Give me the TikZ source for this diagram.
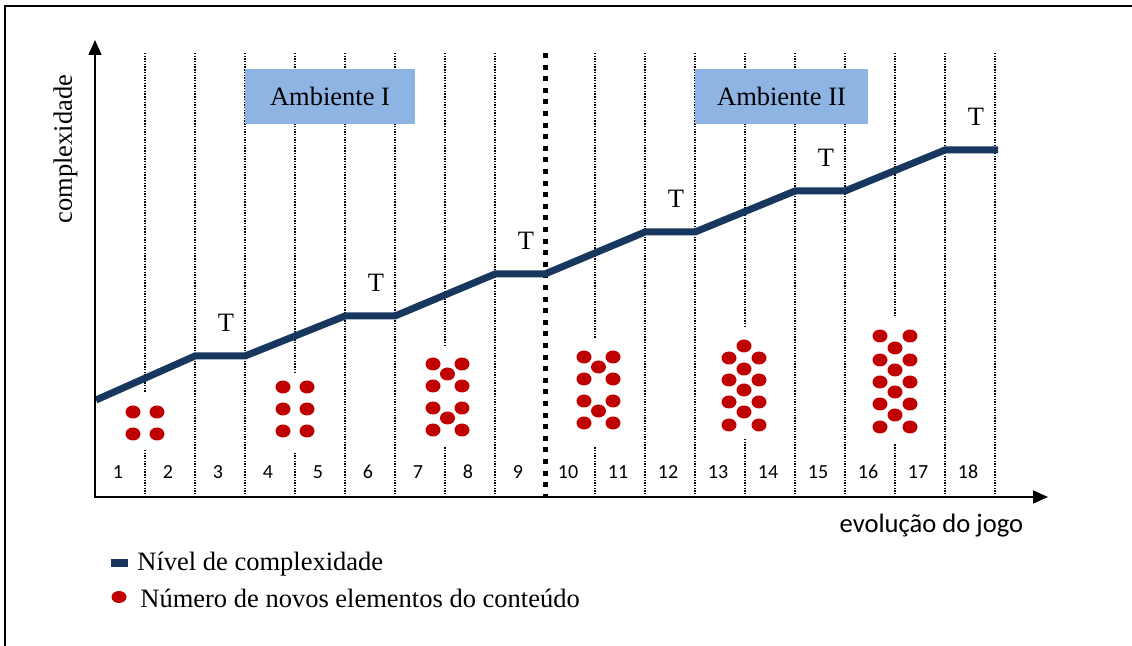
\documentclass[tikz,border=0pt]{standalone}
\usepackage{fontspec}
\setmainfont{Liberation Serif}
\newfontfamily\calibri{Carlito}
\usetikzlibrary{arrows.meta, positioning}
\definecolor{navyline}{RGB}{23,55,94}
\definecolor{dotred}{RGB}{192,0,0}
\definecolor{envblue}{RGB}{142,180,227}

\begin{document}
\begin{tikzpicture}[x=0.5pt, y=-0.5pt,
  colsep/.style={line width=0.8pt, dash pattern=on 0.7pt off 0.65pt},
  envsep/.style={line width=2.5pt, dash pattern=on 2.5pt off 3.3pt},
  envbox/.style={fill=envblue, minimum width=85pt, minimum height=27.5pt, inner sep=0pt, font=\fontsize{13.25}{15}\selectfont},
  tlabel/.style={font=\fontsize{13.25}{15}\selectfont, inner sep=0pt},
  numlabel/.style={font=\calibri\fontsize{10}{12}\selectfont, inner sep=0pt},
  axis/.style={line width=0.9pt, {Triangle[length=7.5pt, width=6.5pt]}-{Triangle[length=7.5pt, width=6.5pt]}},
  legtext/.style={anchor=base west, inner sep=0pt, font=\fontsize{13.25}{15}\selectfont}
]
  \useasboundingbox (0,0) rectangle (1132,646);

  % frame (cut at right and bottom)
  \draw[line width=0.85pt] (5,646) -- (5,6) -- (1132,6);

  % columns of the game
  \foreach \x in {145,195,...,495,595,645,...,995}
    \draw[colsep] (\x,53) -- (\x,497);
  \draw[envsep] (545,53) -- (545,497);

  % clusters of new content elements
  \foreach \xa/\ya/\xb/\yb in {125/392/165/450, 275/373/315/453, 425/347/470/447, 575/338/620/447, 720/327/770/438, 870/318/920/443}
    \fill[white] (\xa,\ya) rectangle (\xb,\yb);
  \foreach \cx/\dx/\rows in {145/12/{412,434}, 295/12/{387,409,431}, 447.5/14.5/{364,386,408,430}, 598.5/14.5/{357,379,401,423}, 744/15/{358,380,402,425}, 895/15/{336,360,382,404,427}}
    \foreach \y in \rows
      \foreach \s in {-1,1}
        \fill[dotred] ({\cx+\s*\dx},\y) ellipse [x radius=3.75pt, y radius=3.25pt];
  \foreach \cx/\rows in {447.5/{374,418}, 598.5/{367,411}, 744/{346,369,390,412}, 895/{348,370,392,415}}
    \foreach \y in \rows
      \fill[dotred] (\cx,\y) ellipse [x radius=3.75pt, y radius=3.25pt];

  % complexity level
  \draw[navyline, line width=3.5pt] (96,400) -- (195,356) -- (245,356) -- (345,316) -- (395,316) -- (495,274) -- (545,274)
    -- (645,232) -- (695,232) -- (795,191) -- (845,191) -- (945,150) -- (998,150);
  \foreach \c/\h [count=\k] in {220/356, 370/316, 520/274, 670/232, 820/191, 970/150}
    \node[tlabel] (t\k) at ({\c+6},{\h-33}) {T};

  % environments
  \node[envbox] (env1) at (330,96.5) {Ambiente I};
  \node[envbox, minimum width=86.5pt] (env2) at (781.5,96.5) {Ambiente II};

  % column numbers
  \foreach \n in {1,...,18}
    \node[numlabel] (n\n) at ({68+50*\n},472) {\n};

  % axes
  \coordinate (origin) at (95,497);
  \coordinate (ytop) at (95,40);
  \coordinate (xend) at (1048,497);
  \draw[axis] (ytop) -- (origin) -- (xend);
  \node[rotate=90, inner sep=0pt, font=\fontsize{13.25}{15}\selectfont] (ylabel) at (65.5,149) {complexidade};
  \node[inner sep=0pt, font=\calibri\fontsize{13.3}{16}\selectfont] (xlabel) at (931.5,526) {evolução do jogo};

  % legend
  \node[fill=navyline, minimum width=8.5pt, minimum height=4pt, inner sep=0pt] (keyline) at (119.5,563) {};
  \node[legtext] (legline) at (137,571) {Nível de complexidade};
  \fill[dotred] (119,597) ellipse [x radius=3.75pt, y radius=3pt];
  \node[legtext] (legdot) at (140,608) {Número de novos elementos do conteúdo};
\end{tikzpicture}
\end{document}
